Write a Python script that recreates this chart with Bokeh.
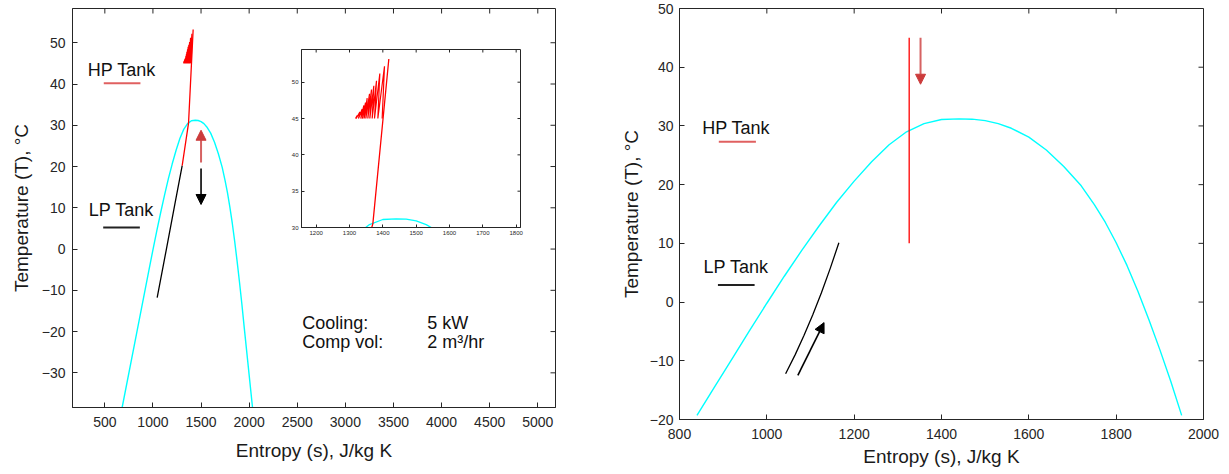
import math
from bokeh.plotting import figure
from bokeh.layouts import row
from bokeh.models import Range1d, Label, Arrow, NormalHead, FixedTicker
from bokeh.embed import file_html
from bokeh.resources import INLINE

# ---------------- data ----------------
# saturation dome (entropy J/kg K, temperature degC)
dome_s = [840, 880, 920, 960, 1000, 1040, 1080, 1120, 1160, 1200, 1240, 1280,
          1320, 1360, 1400, 1440, 1470, 1500, 1530, 1560, 1600, 1640, 1680,
          1720, 1750, 1775, 1800, 1825, 1850, 1875, 1900, 1925, 1950]
dome_T = [-19.3, -14.5, -9.7, -4.9, -0.2, 4.4, 8.8, 13.0, 17.0, 20.6, 23.9, 26.8,
          29.0, 30.4, 31.1, 31.2, 31.15, 30.9, 30.4, 29.6, 28.1, 25.9, 23.1,
          19.8, 16.6, 13.6, 10.1, 6.2, 1.8, -3.0, -8.1, -13.5, -19.3]
# dome continuation below -20 degC (left chart only)
dome_lo_s = [680, 2035]
dome_lo_T = [-38.4, -38.4]

# left chart: LP tank path (black) and HP tank path (red)
lp_left_s = [1044, 1140, 1225, 1304]
lp_left_T = [-11.8, 0.0, 10.5, 20.2]
hp_left_s = [1304, 1370, 1418]
hp_left_T = [20.2, 30.5, 53.2]

# HP tank charging cycles (sawtooth)
saw_base_s = [1318, 1320, 1327, 1334, 1339, 1344, 1349, 1355, 1361, 1368, 1375, 1385, 1398]
saw_base_T = 45.0
saw_peak_s = [1323, 1331, 1338, 1343, 1348, 1353, 1360, 1366, 1373, 1381, 1391, 1405]
saw_peak_T = [45.4, 45.9, 46.3, 46.8, 47.2, 47.8, 48.4, 49.0, 49.5, 50.2, 51.2, 52.2]

# right chart
hp_right_s = [1326, 1326]
hp_right_T = [45.0, 10.0]
lp_right_s = [1043, 1065, 1085, 1105, 1125, 1145, 1165]
lp_right_T = [-12.2, -8.95, -5.7, -2.2, 1.6, 5.7, 10.1]

# tick labels
left_xticks = [500, 1000, 1500, 2000, 2500, 3000, 3500, 4000, 4500, 5000]
left_yticks = [-30, -20, -10, 0, 10, 20, 30, 40, 50]
right_xticks = [800, 1000, 1200, 1400, 1600, 1800, 2000]
right_yticks = [-20, -10, 0, 10, 20, 30, 40, 50]
inset_xticks = [1200, 1300, 1400, 1500, 1600, 1700, 1800]
inset_yticks = [30, 35, 40, 45, 50]

info_names = ["Cooling:", "Comp vol:"]
info_values = ["5 kW", "2 m\u00b3/hr"]

# ---------------- styling ----------------
FONT = "Liberation Sans"
TXT = "#262626"
CYAN = "#00ffff"
RED = "#ff0000"
ARROW_RED = "#cc3b3b"
LEG_RED = "#e06060"
TOP = 8       # common top border (row aligns plot frames)
BOTTOM = 52   # common bottom border

saw_s = []
saw_T = []
for i in range(len(saw_peak_s)):
    saw_s += [saw_base_s[i], saw_peak_s[i]]
    saw_T += [saw_base_T, saw_peak_T[i]]
saw_s.append(saw_base_s[-1])
saw_T.append(saw_base_T)

dome_full_s = [dome_lo_s[0]] + dome_s + [dome_lo_s[1]]
dome_full_T = [dome_lo_T[0]] + dome_T + [dome_lo_T[1]]


def style_axes(p, xticks, yticks, tick_size="14px", label_size="19px",
               xlabel=None, ylabel=None, ystandoff=7, xstandoff=8,
               ylab_standoff=12, xlab_standoff=8, tick_len=5):
    p.xaxis.ticker = FixedTicker(ticks=xticks)
    p.yaxis.ticker = FixedTicker(ticks=yticks)
    for ax in (p.xaxis[0], p.yaxis[0]):
        ax.major_tick_in = tick_len
        ax.major_tick_out = 0
        ax.minor_tick_line_color = None
        ax.axis_line_color = TXT
        ax.major_tick_line_color = TXT
        ax.major_label_text_font = FONT
        ax.major_label_text_font_size = tick_size
        ax.major_label_text_color = TXT
        ax.axis_label_text_font = FONT
        ax.axis_label_text_font_size = label_size
        ax.axis_label_text_font_style = "normal"
        ax.axis_label_text_color = "#1a1a1a"
    p.yaxis.major_label_standoff = ystandoff
    p.xaxis.major_label_standoff = xstandoff
    p.yaxis.axis_label_standoff = ylab_standoff
    p.xaxis.axis_label_standoff = xlab_standoff
    if xlabel:
        p.xaxis.axis_label = xlabel
    if ylabel:
        p.yaxis.axis_label = ylabel
    # mirrored inward ticks on the top and right edges of the frame
    xr, yr = p.x_range, p.y_range
    p.ray(x=xticks, y=[yr.end] * len(xticks), length=tick_len, angle=-math.pi / 2,
          length_units="screen", line_color=TXT, line_width=1)
    p.ray(x=[xr.end] * len(yticks), y=yticks, length=tick_len, angle=math.pi,
          length_units="screen", line_color=TXT, line_width=1)
    p.xgrid.visible = False
    p.ygrid.visible = False
    p.outline_line_color = TXT
    p.outline_line_alpha = 1
    p.background_fill_color = "white"


def add_label(p, x, y, text, size="18px", align="left"):
    p.add_layout(Label(x=x, y=y, text=text, text_font=FONT, text_font_size=size,
                       text_color="#111111", text_baseline="middle", text_align=align))


# ---------------- left chart ----------------
left = figure(frame_width=483, frame_height=399, output_backend="svg",
              toolbar_location=None,
              x_range=Range1d(164, 5184), y_range=Range1d(-38.4, 58.3),
              min_border_left=72, min_border_right=45, min_border_top=TOP,
              min_border_bottom=BOTTOM)
left.border_fill_color = "white"
style_axes(left, left_xticks, left_yticks,
           xlabel="Entropy (s), J/kg K", ylabel="Temperature (T), \u00b0C",
           ystandoff=7, xstandoff=9, ylab_standoff=7, xlab_standoff=10)

left.line(dome_full_s, dome_full_T, line_color=CYAN, line_width=1.4)
left.line(lp_left_s, lp_left_T, line_color="black", line_width=1.3)
left.line(hp_left_s, hp_left_T, line_color=RED, line_width=1.3)
left.line(saw_s, saw_T, line_color=RED, line_width=1.2)

left.add_layout(Arrow(end=NormalHead(size=10, fill_color=ARROW_RED, line_color=ARROW_RED),
                      x_start=1500, y_start=21.0, x_end=1500, y_end=28.8,
                      line_color=ARROW_RED, line_width=2, line_alpha=0.8))
left.add_layout(Arrow(end=NormalHead(size=10, fill_color="black", line_color="black"),
                      x_start=1500, y_start=19.5, x_end=1500, y_end=10.8,
                      line_color="black", line_width=1.6))

add_label(left, 323, 43.3, "HP Tank")
left.segment(x0=[489], y0=[40.2], x1=[870], y1=[40.2], line_color=LEG_RED, line_width=2)
add_label(left, 333, 9.4, "LP Tank")
left.segment(x0=[483], y0=[5.2], x1=[864], y1=[5.2], line_color="#222222", line_width=2)

add_label(left, 2552, -18.0, info_names[0])
add_label(left, 3851, -18.0, info_values[0])
add_label(left, 2552, -22.5, info_names[1])
add_label(left, 3851, -22.5, info_values[1])

# ---------------- inset (overlaid on the left chart) ----------------
inset = figure(frame_width=219, frame_height=178, output_backend="svg",
               toolbar_location=None,
               x_range=Range1d(1156, 1813), y_range=Range1d(30, 54.5),
               min_border_left=14, min_border_right=4, min_border_top=TOP,
               min_border_bottom=BOTTOM)
inset.border_fill_color = None
style_axes(inset, inset_xticks, inset_yticks, tick_size="6px", label_size="6px",
           ystandoff=3, xstandoff=3, ylab_standoff=0, xlab_standoff=0, tick_len=3)
inset.line(dome_s, dome_T, line_color=CYAN, line_width=1.3)
inset.line(hp_left_s, hp_left_T, line_color=RED, line_width=1.3)
inset.line(saw_s, saw_T, line_color=RED, line_width=1.2)
# inset frame at page x=301, y=49; the left chart is 600 px wide
inset.margin = (49 - TOP, 600 - 287 - 237, 0, 287 - 600)

# ---------------- right chart ----------------
right = figure(frame_width=524, frame_height=411, output_backend="svg",
               toolbar_location=None,
               x_range=Range1d(800, 2000), y_range=Range1d(-20, 50),
               min_border_left=79, min_border_right=18, min_border_top=TOP,
               min_border_bottom=BOTTOM)
right.border_fill_color = "white"
style_axes(right, right_xticks, right_yticks,
           xlabel="Entropy (s), J/kg K", ylabel="Temperature (T), \u00b0C",
           ystandoff=6, xstandoff=9, ylab_standoff=5, xlab_standoff=4)

right.line(dome_s, dome_T, line_color=CYAN, line_width=1.4)
right.line(hp_right_s, hp_right_T, line_color=RED, line_width=1.3)
right.line(lp_right_s, lp_right_T, line_color="black", line_width=1.3)

right.add_layout(Arrow(end=NormalHead(size=10, fill_color=ARROW_RED, line_color=ARROW_RED),
                       x_start=1352, y_start=45.0, x_end=1352, y_end=37.1,
                       line_color=ARROW_RED, line_width=2, line_alpha=0.8))
right.add_layout(Arrow(end=NormalHead(size=10, fill_color="black", line_color="black"),
                       x_start=1071, y_start=-12.5, x_end=1131, y_end=-3.5,
                       line_color="black", line_width=1.6))

add_label(right, 852, 29.6, "HP Tank")
right.segment(x0=[890], y0=[27.3], x1=[975], y1=[27.3], line_color=LEG_RED, line_width=2)
add_label(right, 855, 5.9, "LP Tank")
right.segment(x0=[888], y0=[2.9], x1=[972], y1=[2.9], line_color="#222222", line_width=2)

layout = row(left, inset, right)
open("out.html", "w").write(file_html(layout, INLINE))
